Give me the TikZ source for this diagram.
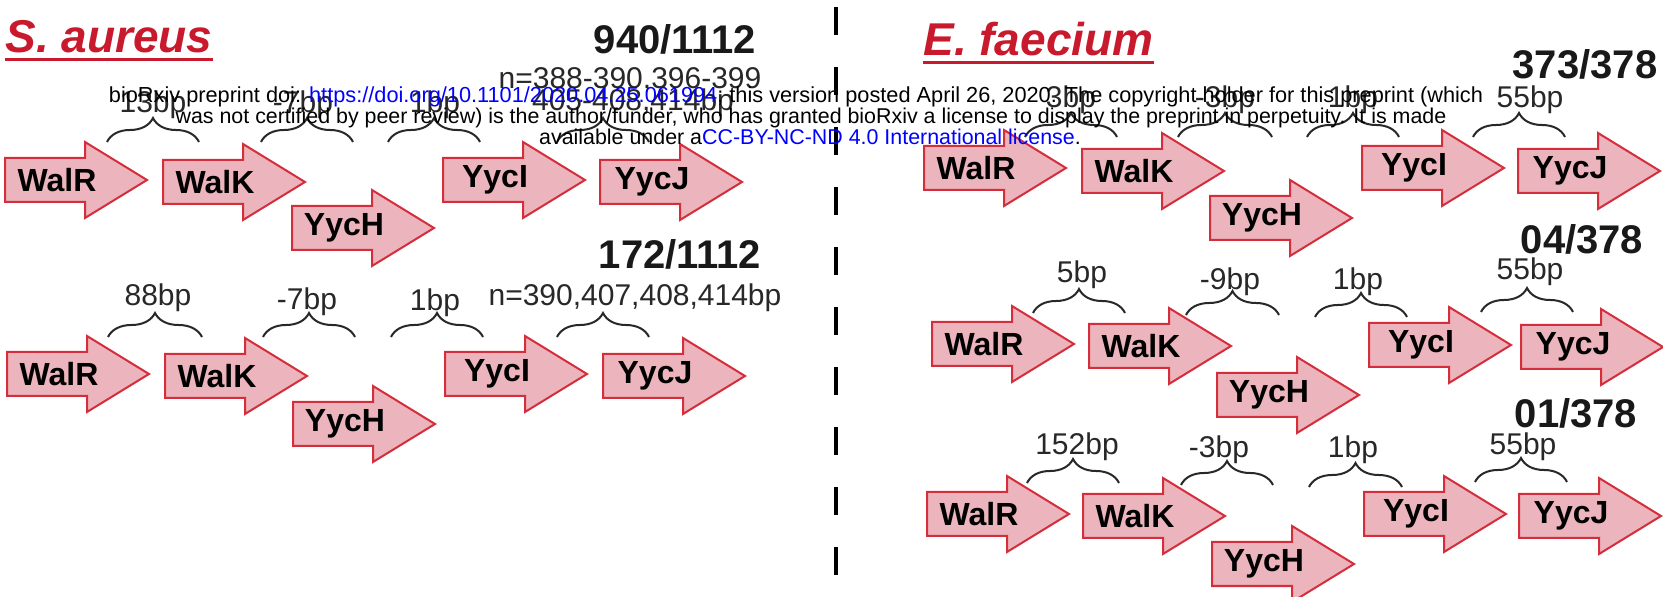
\documentclass[tikz,border=0pt]{standalone}
\usepackage{fontspec}
\setmainfont{Liberation Sans}
\usetikzlibrary{decorations.pathreplacing}
\definecolor{genefill}{RGB}{236,180,188}
\definecolor{genedraw}{RGB}{212,45,60}
\definecolor{titlered}{RGB}{200,25,45}
\definecolor{labelgray}{RGB}{40,40,40}
\definecolor{linkblue}{RGB}{0,0,255}
\tikzset{
  genearrowstyle/.style={fill=genefill, draw=genedraw, line width=1pt, line join=miter},
  genelabel/.style={font=\fontsize{16}{17}\selectfont\bfseries, text=black, inner sep=0pt},
  gaplabel/.style={font=\fontsize{15}{16}\selectfont, text=labelgray, inner sep=0pt},
  countlabel/.style={font=\fontsize{20}{21}\selectfont\bfseries, text=black!90, inner sep=0pt},
  speciestitle/.style={font=\fontsize{23}{25}\selectfont\bfseries\itshape, text=titlered, inner sep=0pt, anchor=base west},
  titleline/.style={draw=titlered, line width=1.5pt},
  gapbrace/.style={draw=labelgray, line width=1pt, decorate, decoration={brace, amplitude=12pt}},
  divider/.style={draw=black, line width=2pt, dash pattern=on 14pt off 16pt},
  overlaytext/.style={font=\fontsize{10.7}{12}\selectfont, text=black, inner sep=0pt, anchor=base},
}
% #1 node name, #2 tail x, #3 centre y, #4 gene name
\newcommand\genearrow[4]{%
  \draw[genearrowstyle] (#2,#3-22) -- (#2+80,#3-22) -- (#2+80,#3-38) -- (#2+142,#3)
    -- (#2+80,#3+38) -- (#2+80,#3+22) -- (#2,#3+22) -- cycle;
  \node[genelabel] (#1) at (#2+52,#3) {#4};}
% #1 node name, #2 left x, #3 right x, #4 bottom y, #5 label x, #6 label y, #7 text
\newcommand\bpgap[7]{%
  \draw[gapbrace] (#2,#4) -- (#3,#4);
  \node[gaplabel] (#1) at (#5,#6) {#7};}
\begin{document}
\begin{tikzpicture}[x=0.5pt,y=-0.5pt]
\fill[white] (0,0) rectangle (1663,597);
\useasboundingbox (0,0) rectangle (1663,597);

% ---- titles ----
\node[speciestitle] (satitle) at (5,53) {S. aureus};
\draw[titleline] ([yshift=-3.5pt]satitle.base west) -- ([yshift=-3.5pt]satitle.base east);
\node[speciestitle] (eftitle) at (923,56) {E. faecium};
\draw[titleline] ([yshift=-3.5pt]eftitle.base west) -- ([yshift=-3.5pt]eftitle.base east);

% ---- divider ----
\coordinate (divtop) at (836,7);
\coordinate (divbot) at (836,575);
\draw[divider] (divtop) -- (divbot);

% ===== S. aureus row 1 =====
\node[countlabel] (sacount1) at (675,39) {940/1112};
\genearrow{sa1walr}{5}{180}{WalR}
\genearrow{sa1walk}{163}{182}{WalK}
\genearrow{sa1ycch}{292}{228}{YycH}
\genearrow{sa1ycci}{443}{180}{YycI}
\genearrow{sa1yccj}{600}{182}{YycJ}
\bpgap{sa1g1}{107}{199}{142}{153}{105}{13bp}
\bpgap{sa1g2}{261}{353}{142}{303}{105}{-7bp}
\bpgap{sa1g3}{388}{480}{142}{435}{105}{1bp}
\draw[gapbrace] (557,142) -- (649,142);
\node[gaplabel] (sa1n1) at (630,80) {n=388-390,396-399};
\node[gaplabel] (sa1n2) at (633,103) {405-408,414bp};

% ===== S. aureus row 2 =====
\node[countlabel] (sacount2) at (680,254) {172/1112};
\genearrow{sa2walr}{7}{374}{WalR}
\genearrow{sa2walk}{165}{376}{WalK}
\genearrow{sa2ycch}{293}{424}{YycH}
\genearrow{sa2ycci}{445}{374}{YycI}
\genearrow{sa2yccj}{603}{376}{YycJ}
\bpgap{sa2g1}{108}{202}{337}{158}{298}{88bp}
\bpgap{sa2g2}{263}{355}{337}{307}{302}{-7bp}
\bpgap{sa2g3}{391}{483}{337}{435}{303}{1bp}
\bpgap{sa2g4}{557}{649}{337}{635}{298}{n=390,407,408,414bp}

% ===== E. faecium row 1 =====
\node[countlabel] (efcount1) at (1585,64) {373/378};
\genearrow{ef1walr}{924}{168}{WalR}
\genearrow{ef1walk}{1082}{171}{WalK}
\genearrow{ef1ycch}{1210}{218}{YycH}
\genearrow{ef1ycci}{1362}{168}{YycI}
\genearrow{ef1yccj}{1518}{171}{YycJ}
\bpgap{ef1g1}{1025}{1117}{137}{1071}{100}{3bp}
\bpgap{ef1g2}{1178}{1272}{137}{1225}{100}{-3bp}
\bpgap{ef1g3}{1307}{1399}{137}{1353}{100}{1bp}
\bpgap{ef1g4}{1473}{1565}{137}{1530}{100}{55bp}

% ===== E. faecium row 2 =====
\node[countlabel] (efcount2) at (1582,239) {04/378};
\genearrow{ef2walr}{932}{344}{WalR}
\genearrow{ef2walk}{1089}{346}{WalK}
\genearrow{ef2ycch}{1217}{395}{YycH}
\genearrow{ef2ycci}{1369}{345}{YycI}
\genearrow{ef2yccj}{1521}{347}{YycJ}
\bpgap{ef2g1}{1033}{1125}{313}{1082}{275}{5bp}
\bpgap{ef2g2}{1186}{1279}{315}{1230}{282}{-9bp}
\bpgap{ef2g3}{1315}{1407}{317}{1358}{282}{1bp}
\bpgap{ef2g4}{1481}{1573}{312}{1530}{272}{55bp}

% ===== E. faecium row 3 =====
\node[countlabel] (efcount3) at (1576,413) {01/378};
\genearrow{ef3walr}{927}{514}{WalR}
\genearrow{ef3walk}{1083}{516}{WalK}
\genearrow{ef3ycch}{1212}{564}{YycH}
\genearrow{ef3ycci}{1364}{514}{YycI}
\genearrow{ef3yccj}{1519}{516}{YycJ}
\bpgap{ef3g1}{1027}{1119}{483}{1077}{447}{152bp}
\bpgap{ef3g2}{1181}{1273}{485}{1219}{450}{-3bp}
\bpgap{ef3g3}{1309}{1402}{487}{1353}{450}{1bp}
\bpgap{ef3g4}{1475}{1567}{482}{1523}{447}{55bp}

% ===== preprint notice =====
\node[overlaytext, font=\fontsize{10.87}{12}\selectfont] (note1) at (796,103) {bioRxiv preprint doi: \textcolor{linkblue}{https://doi.org/10.1101/2020.04.25.061994}; this version posted April 26, 2020. The copyright holder for this preprint (which};
\node[overlaytext] (note2) at (811,124) {was not certified by peer review) is the author/funder, who has granted bioRxiv a license to display the preprint in perpetuity. It is made};
\node[overlaytext] (note3) at (810,145) {available under a\textcolor{linkblue}{CC-BY-NC-ND 4.0 International license}.};
\end{tikzpicture}
\end{document}
